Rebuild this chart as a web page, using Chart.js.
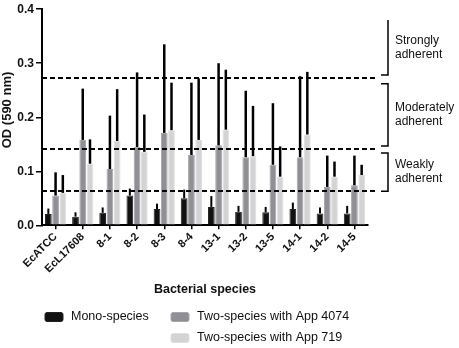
<!DOCTYPE html>
<html>
<head>
<meta charset="utf-8">
<script src="https://cdn.jsdelivr.net/npm/chart.js@4"></script>
<style>
  html, body { margin: 0; padding: 0; background: #fff; }
  #wrap { width: 459px; height: 348px; }
</style>
</head>
<body>
<div id="wrap"><canvas id="bar" width="459" height="348"></canvas></div>
<script>
const categories = ['EcATCC', 'EcL17608', '8-1', '8-2', '8-3', '8-4', '13-1', '13-2', '13-5', '14-1', '14-2', '14-5'];

const mono = [0.021, 0.016, 0.023, 0.055, 0.030, 0.050, 0.034, 0.025, 0.024, 0.030, 0.022, 0.022];
const monoErr = [0.010, 0.008, 0.010, 0.013, 0.010, 0.016, 0.020, 0.011, 0.010, 0.012, 0.011, 0.014];

const app4074 = [0.055, 0.158, 0.104, 0.145, 0.171, 0.130, 0.148, 0.126, 0.112, 0.126, 0.071, 0.074];
const app4074Err = [0.043, 0.095, 0.099, 0.138, 0.164, 0.134, 0.152, 0.123, 0.114, 0.150, 0.058, 0.055];

const app719 = [0.060, 0.114, 0.156, 0.136, 0.176, 0.158, 0.177, 0.128, 0.090, 0.168, 0.090, 0.093];
const app719Err = [0.033, 0.045, 0.096, 0.069, 0.088, 0.114, 0.111, 0.093, 0.056, 0.116, 0.028, 0.019];

const yTicks = [0, 0.1, 0.2, 0.3, 0.4];

// cut-off lines and the adherence groups they define
const thresholds = [0.064, 0.142, 0.2735];
const groupLabels = [['Strongly', 'adherent'], ['Moderately', 'adherent'], ['Weakly', 'adherent']];
const groupFrom = [0.278, 0.147, 0.063];
const groupTo = [0.380, 0.262, 0.134];
const groupTopTick = [false, true, true];

const FONT = "'Liberation Sans', Arial, Helvetica, sans-serif";
const errors = [monoErr, app4074Err, app719Err];

const overlay = {
  id: 'overlay',
  afterDatasetsDraw(chart) {
    const ctx = chart.ctx;
    const y = chart.scales.y;
    const area = chart.chartArea;
    ctx.save();
    ctx.strokeStyle = '#000';
    ctx.lineCap = 'butt';
    chart.data.datasets.forEach((ds, i) => {
      const meta = chart.getDatasetMeta(i);
      ctx.lineWidth = i === 0 ? 2 : 2.5;
      meta.data.forEach((el, j) => {
        const v = ds.data[j];
        ctx.beginPath();
        ctx.moveTo(el.x, y.getPixelForValue(v));
        ctx.lineTo(el.x, y.getPixelForValue(v + errors[i][j]));
        ctx.stroke();
      });
    });

    // dashed cut-offs
    ctx.lineWidth = 2;
    ctx.setLineDash([5, 3]);
    thresholds.forEach(t => {
      const py = Math.round(y.getPixelForValue(t));
      ctx.beginPath();
      ctx.moveTo(area.left, py);
      ctx.lineTo(area.right + 7, py);
      ctx.stroke();
    });
    ctx.setLineDash([]);

    // brackets
    const bx = area.right + 20;
    ctx.lineWidth = 1.5;
    ctx.font = '12px ' + FONT;
    ctx.fillStyle = '#111';
    ctx.textBaseline = 'middle';
    ctx.textAlign = 'left';
    groupLabels.forEach((lines, i) => {
      const top = y.getPixelForValue(groupTo[i]);
      const bot = y.getPixelForValue(groupFrom[i]);
      ctx.beginPath();
      if (groupTopTick[i]) {
        ctx.moveTo(bx - 7, top);
        ctx.lineTo(bx, top);
      } else {
        ctx.moveTo(bx, top);
      }
      ctx.lineTo(bx, bot);
      ctx.lineTo(bx - 7, bot);
      ctx.stroke();
      const mid = (top + bot) / 2;
      ctx.fillText(lines[0], bx + 7, mid - 7);
      ctx.fillText(lines[1], bx + 7, mid + 7);
    });
    ctx.restore();
  },
  afterDraw(chart) {
    const ctx = chart.ctx;
    ctx.save();

    // y axis title, sitting a little above the middle as in the figure
    ctx.font = 'bold 13px ' + FONT;
    ctx.fillStyle = '#111';
    ctx.textAlign = 'center';
    ctx.textBaseline = 'middle';
    ctx.translate(7.5, 110);
    ctx.rotate(-Math.PI / 2);
    ctx.fillText('OD (590 nm)', 0, 0);
    ctx.setTransform(1, 0, 0, 1, 0, 0);

    // legend: two columns, third entry under the second
    const spots = [[45, 317], [171, 317], [171, 338]];
    ctx.font = '12.5px ' + FONT;
    ctx.textAlign = 'left';
    chart.data.datasets.forEach((ds, i) => {
      const [lx, ly] = spots[i];
      ctx.fillStyle = ds.backgroundColor;
      ctx.strokeStyle = ds.borderColor;
      ctx.lineWidth = 1;
      ctx.beginPath();
      ctx.roundRect(lx, ly - 4.5, 18, 9, 2);
      ctx.fill();
      ctx.stroke();
      ctx.fillStyle = '#111';
      ctx.fillText(ds.label, lx + 26, ly);
    });
    ctx.restore();
  }
};

const chartData = {
  labels: categories,
  datasets: [
    { label: 'Mono-species', data: mono, backgroundColor: '#111111', borderColor: '#222222', borderWidth: 1 },
    { label: 'Two-species with App 4074', data: app4074, backgroundColor: '#8f8f95', borderColor: '#a6a6aa', borderWidth: 1 },
    { label: 'Two-species with App 719', data: app719, backgroundColor: '#d3d3d3', borderColor: '#e0e0e0', borderWidth: 1 }
  ]
};

const chartOptions = {
  responsive: false,
  devicePixelRatio: 1,
  animation: false,
  layout: { padding: { left: 0, right: 91, top: 8, bottom: 47 } },
  datasets: { bar: { categoryPercentage: 0.8, barPercentage: 0.93 } },
  plugins: { legend: { display: false }, tooltip: { enabled: false } },
  scales: {
    x: {
      afterFit: s => { s.height = 75.7; },
      border: { color: '#000', width: 2 },
      grid: { drawOnChartArea: false, offset: false, color: '#000', lineWidth: 1.5, tickLength: 4 },
      ticks: {
        color: '#111', minRotation: 45, maxRotation: 45, padding: 1,
        font: { family: FONT, size: 11, weight: 'bold' }
      },
      title: {
        display: true, text: 'Bacterial species', color: '#111',
        font: { family: FONT, size: 12.5, weight: 'bold' }, padding: { top: 4, bottom: 4 }
      }
    },
    y: {
      min: 0,
      max: 0.4,
      afterFit: s => { s.width = 42; },
      afterBuildTicks: s => { s.ticks = yTicks.map(v => ({ value: v })); },
      border: { color: '#000', width: 2 },
      grid: { drawOnChartArea: false, color: '#000', lineWidth: 1.5, tickLength: 6 },
      ticks: {
        color: '#111', padding: 2,
        font: { family: FONT, size: 12, weight: 'bold' },
        callback: v => v.toFixed(1)
      }
    }
  }
};

new Chart(document.getElementById('bar'), {
  type: 'bar',
  data: chartData,
  options: chartOptions,
  plugins: [overlay]
});
</script>
</body>
</html>
